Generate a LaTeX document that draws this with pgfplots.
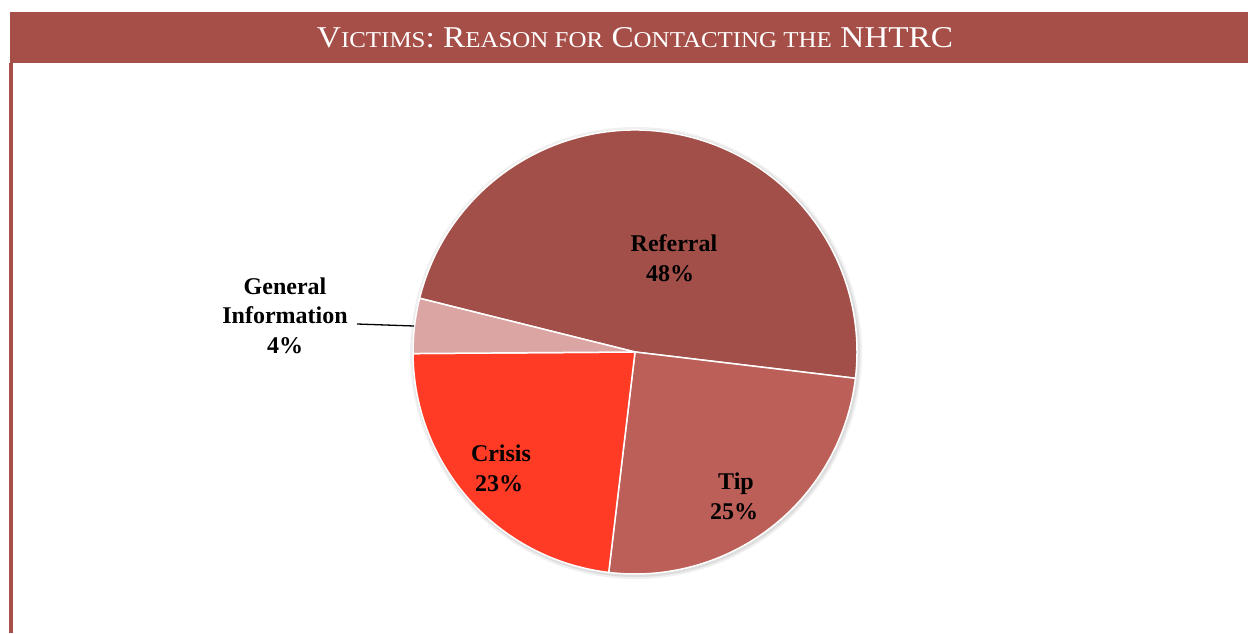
\documentclass[border=0pt]{standalone}
\usepackage{pgfplots}
\pgfplotsset{compat=1.18}
\usepackage{pgfplotstable}
\usepackage{graphicx}
\usepackage{fontspec}
\setmainfont{Liberation Serif}
\definecolor{barcol}{HTML}{A64F48}
\definecolor{refcol}{HTML}{A24F49}
\definecolor{tipcol}{HTML}{BC5F58}
\definecolor{criscol}{HTML}{FF3B26}
\definecolor{gencol}{HTML}{DBA5A3}
\pgfplotstableread{
label share
Referral 48
Tip 25
Crisis 23
General 4
}\piedata
\newcommand\smc[1]{{\fontsize{22.5}{22.5}\selectfont #1}}
\begin{document}
\begin{tikzpicture}
\pgfplotstablegetelem{0}{share}\of\piedata \let\vA\pgfplotsretval
\pgfplotstablegetelem{1}{share}\of\piedata \let\vB\pgfplotsretval
\pgfplotstablegetelem{2}{share}\of\piedata \let\vC\pgfplotsretval
\pgfplotstablegetelem{3}{share}\of\piedata \let\vD\pgfplotsretval
\pgfmathsetmacro\aA{166}
\pgfmathsetmacro\aB{\aA-\vA*3.6}
\pgfmathsetmacro\aC{\aB-\vB*3.6}
\pgfmathsetmacro\aD{\aC-\vC*3.6}
\pgfmathsetmacro\aE{\aD-\vD*3.6}
\begin{axis}[hide axis, scale only axis, width=1248pt, height=633pt,
  xmin=0, xmax=1248, ymin=0, ymax=633, clip=false]
\path (axis cs:0,0) rectangle (axis cs:1248,633);
% title bar and frame
\fill[barcol] (axis cs:10,570) rectangle (axis cs:1248,621);
\fill[barcol] (axis cs:9,0) rectangle (axis cs:13,570);
\node[anchor=base, text=white, inner sep=0pt] at (axis cs:635,585)
  {\resizebox{636pt}{20pt}{\fontsize{30}{30}\selectfont V\smc{ICTIMS}: R\smc{EASON FOR} C\smc{ONTACTING THE} NHTRC}};
% shadow
\fill[black, opacity=0.06] (axis cs:636,280) circle[radius=226pt];
\fill[black, opacity=0.08] (axis cs:636,280) circle[radius=224pt];
% wedges
\fill[refcol, draw=white, line width=1.5pt, line join=round] (axis cs:635,281) -- ++(\aA:222pt) arc[start angle=\aA, end angle=\aB, radius=222pt] -- cycle;
\fill[tipcol, draw=white, line width=1.5pt, line join=round] (axis cs:635,281) -- ++(\aB:222pt) arc[start angle=\aB, end angle=\aC, radius=222pt] -- cycle;
\fill[criscol, draw=white, line width=1.5pt, line join=round] (axis cs:635,281) -- ++(\aC:222pt) arc[start angle=\aC, end angle=\aD, radius=222pt] -- cycle;
\fill[gencol, draw=white, line width=1.5pt, line join=round] (axis cs:635,281) -- ++(\aD:222pt) arc[start angle=\aD, end angle=\aE, radius=222pt] -- cycle;
% labels
\tikzset{lab/.style={anchor=base, inner sep=0pt, font=\fontsize{24}{29}\selectfont\bfseries}}
\node[lab] at (axis cs:674,381) {Referral};
\node[lab] at (axis cs:670,351) {48\%};
\node[lab] at (axis cs:501,172) {Crisis};
\node[lab] at (axis cs:499,142) {23\%};
\node[lab] at (axis cs:736,144) {Tip};
\node[lab] at (axis cs:734,114) {25\%};
\node[lab] at (axis cs:285,338) {General};
\node[lab] at (axis cs:285,309) {Information};
\node[lab] at (axis cs:285,280) {4\%};
\draw[black, line width=1.3pt] (axis cs:357,309) -- (axis cs:414,307);
\end{axis}
\end{tikzpicture}
\end{document}
